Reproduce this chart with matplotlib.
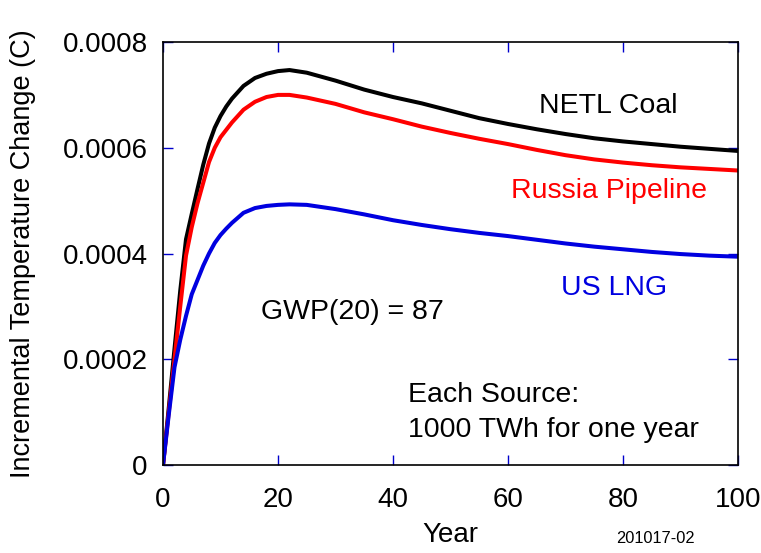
import matplotlib
matplotlib.use("Agg")
import matplotlib.pyplot as plt
from matplotlib.ticker import FixedLocator, FuncFormatter

plt.rcParams["font.family"] = ["Liberation Sans", "DejaVu Sans"]

COLOR_COAL = "#000000"
COLOR_PIPE = "#ff0000"
COLOR_LNG = "#0000e0"
COLOR_TICK = "#0000cc"

years = [0, 1, 2, 3, 4, 5, 6, 7, 8, 9, 10, 11, 12, 14, 16, 18, 20, 22, 25, 30,
         35, 40, 45, 50, 55, 60, 65, 70, 75, 80, 85, 90, 95, 100]

netl_coal = [0, 0.000108, 0.00022, 0.00033, 0.000427, 0.000475, 0.000522,
             0.000568, 0.000608, 0.000638, 0.00066, 0.000678, 0.000693,
             0.000717, 0.000732, 0.00074, 0.000745, 0.000747, 0.000742,
             0.000727, 0.00071, 0.000696, 0.000684, 0.00067, 0.000656,
             0.000645, 0.000635, 0.000626, 0.000618, 0.000612, 0.000607,
             0.000602, 0.000598, 0.000594]

russia_pipeline = [0, 0.0001, 0.0002, 0.0003, 0.000396, 0.00045, 0.000495,
                   0.000534, 0.000573, 0.0006, 0.00062, 0.000634, 0.000648,
                   0.000672, 0.000687, 0.000696, 0.0007, 0.0007, 0.000695,
                   0.000683, 0.000667, 0.000654, 0.00064, 0.000628, 0.000617,
                   0.000607, 0.000596, 0.000586, 0.000578, 0.000572, 0.000567,
                   0.000563, 0.00056, 0.000557]

us_lng = [0, 0.000095, 0.000185, 0.000237, 0.000282, 0.000323, 0.00035,
          0.000377, 0.0004, 0.00042, 0.000435, 0.000447, 0.000458, 0.000477,
          0.000486, 0.00049, 0.000492, 0.000493, 0.000492, 0.000484, 0.000474,
          0.000463, 0.000454, 0.000446, 0.000439, 0.000433, 0.000426,
          0.000419, 0.000413, 0.000408, 0.000403, 0.000399, 0.000396, 0.000394]

x_ticks = [0, 20, 40, 60, 80, 100]
y_ticks = [0, 0.0002, 0.0004, 0.0006, 0.0008]

fig = plt.figure(figsize=(7.61, 5.53), dpi=100)
ax = fig.add_axes([0.2142, 0.1591, 0.7556, 0.7649])

ax.plot(years, netl_coal, color=COLOR_COAL, linewidth=2.9)
ax.plot(years, russia_pipeline, color=COLOR_PIPE, linewidth=2.9)
ax.plot(years, us_lng, color=COLOR_LNG, linewidth=2.9)

ax.set_xlim(0, 100)
ax.set_ylim(0, 0.0008)
ax.xaxis.set_major_locator(FixedLocator(x_ticks))
ax.yaxis.set_major_locator(FixedLocator(y_ticks))
ax.yaxis.set_major_formatter(FuncFormatter(lambda v, p: "0" if v == 0 else f"{v:.4f}"))
ax.tick_params(axis="both", which="major", direction="in", top=True, right=True,
               length=7, width=1, color=COLOR_TICK, labelsize=20)
ax.tick_params(axis="x", pad=16)
ax.tick_params(axis="y", pad=11)
for sp in ax.spines.values():
    sp.set_linewidth(1.2)

ax.set_xlabel("Year", fontsize=20, labelpad=6)
ax.set_ylabel("Incremental Temperature Change (C)", fontsize=19.5)
ax.yaxis.set_label_coords(-0.221, 0.5)

ax.text(77.5, 0.000666, "NETL Coal", fontsize=20.5, ha="center", va="baseline")
ax.text(77.5, 0.000505, "Russia Pipeline", fontsize=20.5, color=COLOR_PIPE,
        ha="center", va="baseline")
ax.text(78.5, 0.000322, "US LNG", fontsize=20.5, color=COLOR_LNG,
        ha="center", va="baseline")
ax.text(17.1, 0.000276, "GWP(20) = 87", fontsize=20.5, ha="left", va="baseline")
ax.text(42.6, 0.0001197, "Each Source:", fontsize=20.5, ha="left", va="baseline")
ax.text(42.6, 0.0000535, "1000 TWh for one year", fontsize=20.5, ha="left", va="baseline")
fig.text(0.861, 0.027, "201017-02", fontsize=11.8, ha="center", va="center")

fig.savefig("out.png", dpi=100)
